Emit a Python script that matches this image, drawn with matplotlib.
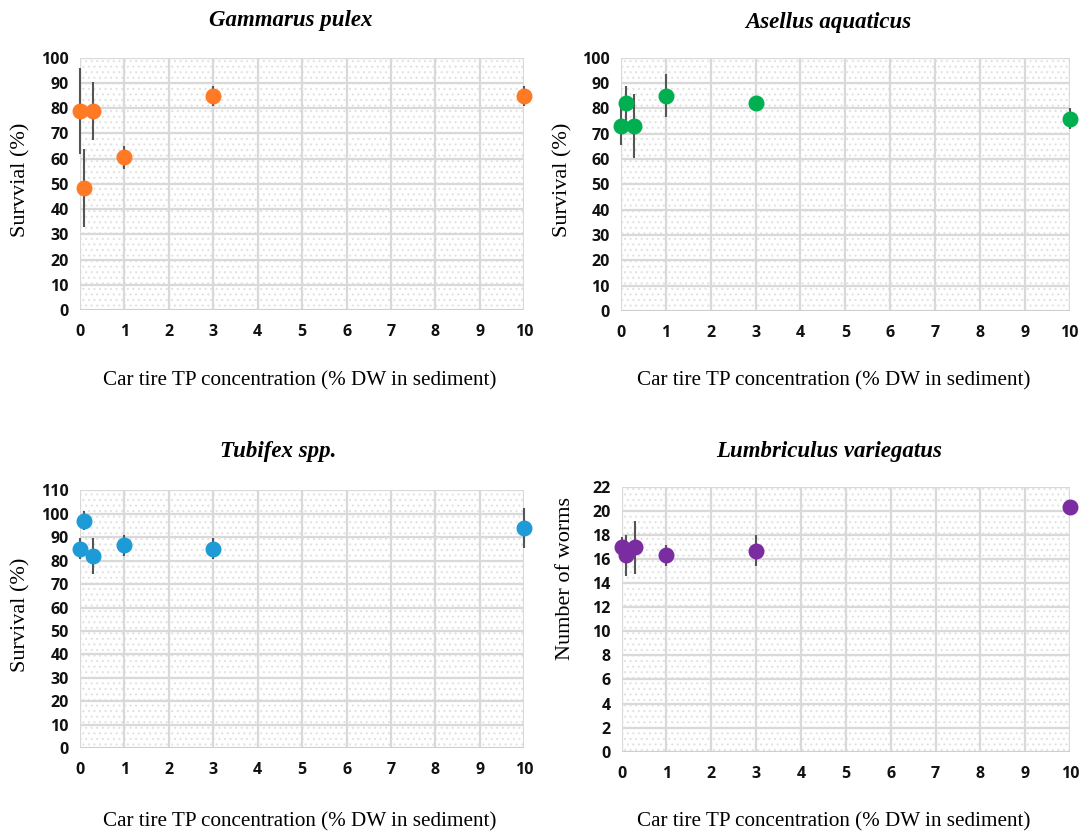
import numpy as np
import matplotlib.pyplot as plt
from matplotlib.patches import Rectangle

plt.rcParams['hatch.color'] = '#e2e2e2'
plt.rcParams['hatch.linewidth'] = 0.8

conc = [0, 0.1, 0.3, 1, 3, 10]

gammarus = [79, 48.5, 79, 60.5, 85, 85]
gammarus_err = [17, 15.5, 11.5, 4.5, 4, 4]

asellus = [73, 82, 73, 85, 82, 76]
asellus_err = [7.5, 7, 12.7, 8.5, 0.5, 4]

tubifex = [85, 97, 82, 86.5, 85, 94]
tubifex_err = [4.5, 4, 7.5, 4.5, 4.5, 8.5]

lumbri = [17, 16.3, 17, 16.3, 16.7, 20.3]
lumbri_err = [0.8, 1.7, 2.2, 0.9, 1.3, 0.0]

panels = [
    # data, err, colour, title, ylabel, ymax, ystep, axes rect, title/xlabel/ylabel pos
    (gammarus, gammarus_err, '#FF7A24', 'Gammarus pulex', 'Survvial (%)', 100, 10,
     [0.074, 0.630, 0.411, 0.301], (0.269, 0.975), (0.277, 0.545), (0.019, 0.785)),
    (asellus, asellus_err, '#00B050', 'Asellus aquaticus', 'Survival (%)', 100, 10,
     [0.5745, 0.629, 0.415, 0.302], (0.766, 0.973), (0.771, 0.545), (0.521, 0.785)),
    (tubifex, tubifex_err, '#1E9BD7', 'Tubifex spp.', 'Survival (%)', 110, 10,
     [0.074, 0.107, 0.411, 0.308], (0.257, 0.461), (0.277, 0.019), (0.019, 0.266)),
    (lumbri, lumbri_err, '#7B2CA0', 'Lumbriculus variegatus', 'Number of worms', 22, 2,
     [0.575, 0.103, 0.415, 0.316], (0.767, 0.461), (0.771, 0.019), (0.523, 0.31)),
]

fig = plt.figure(figsize=(10.81, 8.38), dpi=100)

for vals, err, col, title, ylab, ymax, ystep, rect, tpos, xpos, ypos in panels:
    ax = fig.add_axes(rect)
    ax.add_patch(Rectangle((0, 0), 1, 1, transform=ax.transAxes, facecolor='white',
                           hatch='...', edgecolor='#e2e2e2', linewidth=0, zorder=0))
    ax.set_xlim(0, 10)
    ax.set_ylim(0, ymax)
    ax.set_xticks(np.arange(0, 11, 1))
    ax.set_yticks(np.arange(0, ymax + 1, ystep))
    ax.grid(True, color='#d9d9d9', linewidth=1.6, zorder=1)
    ax.set_axisbelow(True)
    for s in ax.spines.values():
        s.set_visible(False)
    ax.axhline(0, color='#cccccc', linewidth=1.8, zorder=1)
    ax.tick_params(length=0, labelsize=11.5, labelcolor='#111111')
    ax.tick_params(axis='x', pad=10)
    ax.tick_params(axis='y', pad=8)
    for lab in ax.get_xticklabels() + ax.get_yticklabels():
        lab.set_fontfamily('Open Sans')
        lab.set_fontweight('bold')
    ax.errorbar(conc, vals, yerr=err, fmt='none', ecolor='#555555', elinewidth=1.5,
                capsize=0, zorder=3, clip_on=False)
    ax.plot(conc, vals, 'o', color=col, markersize=10.5, zorder=4, clip_on=False)
    fig.text(tpos[0], tpos[1], title, ha='center', va='center', fontsize=16.5,
             fontweight='bold', fontstyle='italic', family='Liberation Serif')
    fig.text(xpos[0], xpos[1], 'Car tire TP concentration (% DW in sediment)',
             ha='center', va='center', fontsize=15.2, family='Liberation Serif')
    fig.text(ypos[0], ypos[1], ylab, ha='center', va='center', rotation=90,
             fontsize=16, family='Liberation Serif')

fig.savefig('out.png', dpi=100)
